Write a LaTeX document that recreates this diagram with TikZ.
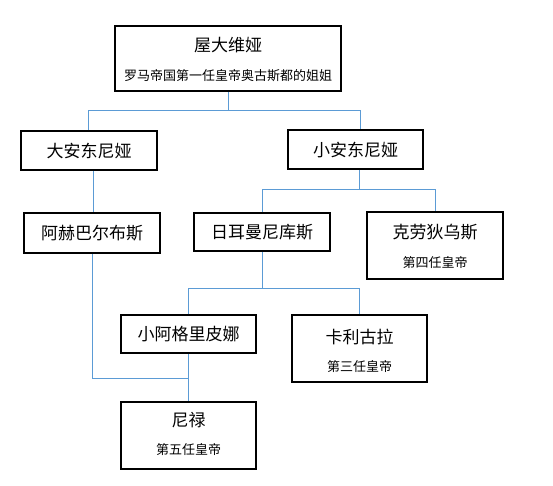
\documentclass[tikz,border=0pt]{standalone}
\usepackage{fontspec}
\setmainfont{Noto Sans CJK SC}
\definecolor{linkblue}{RGB}{91,155,213}
\begin{document}
\begin{tikzpicture}[x=1pt,y=-1pt,
  box/.style={draw=black,line width=1.6pt,inner sep=0pt,minimum width=136pt},
  onebox/.style={box,minimum height=39pt,font=\fontsize{17}{20}\selectfont},
  twobox/.style={box,minimum height=67pt},
  nametext/.style={inner sep=0pt,font=\fontsize{17}{20}\selectfont},
  subtext/.style={inner sep=0pt,font=\fontsize{13}{16}\selectfont},
  conn/.style={draw=linkblue,line width=1pt}]
\useasboundingbox (0,0) rectangle (553,486);
% boxes
\node[box,minimum width=226pt,minimum height=65pt] (top) at (228,58.5) {};
\node[nametext] (topname) at (228,45) {屋大维娅};
\node[subtext] (topsub) at (228,76) {罗马帝国第一任皇帝奥古斯都的姐姐};
\node[onebox] (daan) at (89,150.5) {大安东尼娅};
\node[onebox,minimum width=135pt] (xiaoan) at (355.5,149.5) {小安东尼娅};
\node[onebox,minimum height=40pt] (ahe) at (92,233) {阿赫巴尔布斯};
\node[onebox,minimum height=38pt] (rier) at (262,232) {日耳曼尼库斯};
\node[twobox] (klau) at (435,245.5) {};
\node[nametext] (klauname) at (435,232) {克劳狄乌斯};
\node[subtext] (klausub) at (435,263) {第四任皇帝};
\node[onebox,minimum width=135pt,minimum height=38pt] (xag) at (188.5,334) {小阿格里皮娜};
\node[twobox,minimum width=135pt] (kali) at (359.5,348.5) {};
\node[nametext] (kaliname) at (359.5,337) {卡利古拉};
\node[subtext] (kalisub) at (359.5,367) {第三任皇帝};
\node[twobox,minimum width=135pt] (nero) at (188.5,435.5) {};
\node[nametext] (neroname) at (188.5,420) {尼禄};
\node[subtext] (nerosub) at (188.5,450) {第五任皇帝};
% bus coordinates
\coordinate (bus1) at (0,111);
\coordinate (bus2) at (0,190);
\coordinate (bus3) at (0,288);
\coordinate (bus4) at (0,378);
% connectors
\draw[conn] (top.south) -- (top.south |- bus1);
\draw[conn] ([xshift=-1pt]daan.north) |- ([xshift=4.5pt]xiaoan.north |- bus1) -- ([xshift=4.5pt]xiaoan.north);
\draw[conn] ([xshift=4pt]daan.south) -- ([xshift=1pt]ahe.north);
\draw[conn] ([xshift=3.5pt]xiaoan.south) -- ([xshift=3.5pt]xiaoan.south |- bus2);
\draw[conn] (rier.north) |- (klau.north |- bus2) -- (klau.north);
\draw[conn] (rier.south) -- (rier.south |- bus3);
\draw[conn] (xag.north) |- (kali.north |- bus3) -- (kali.north);
\draw[conn] (ahe.south) |- (xag.south |- bus4);
\draw[conn] (xag.south) -- (nero.north);
\end{tikzpicture}
\end{document}
